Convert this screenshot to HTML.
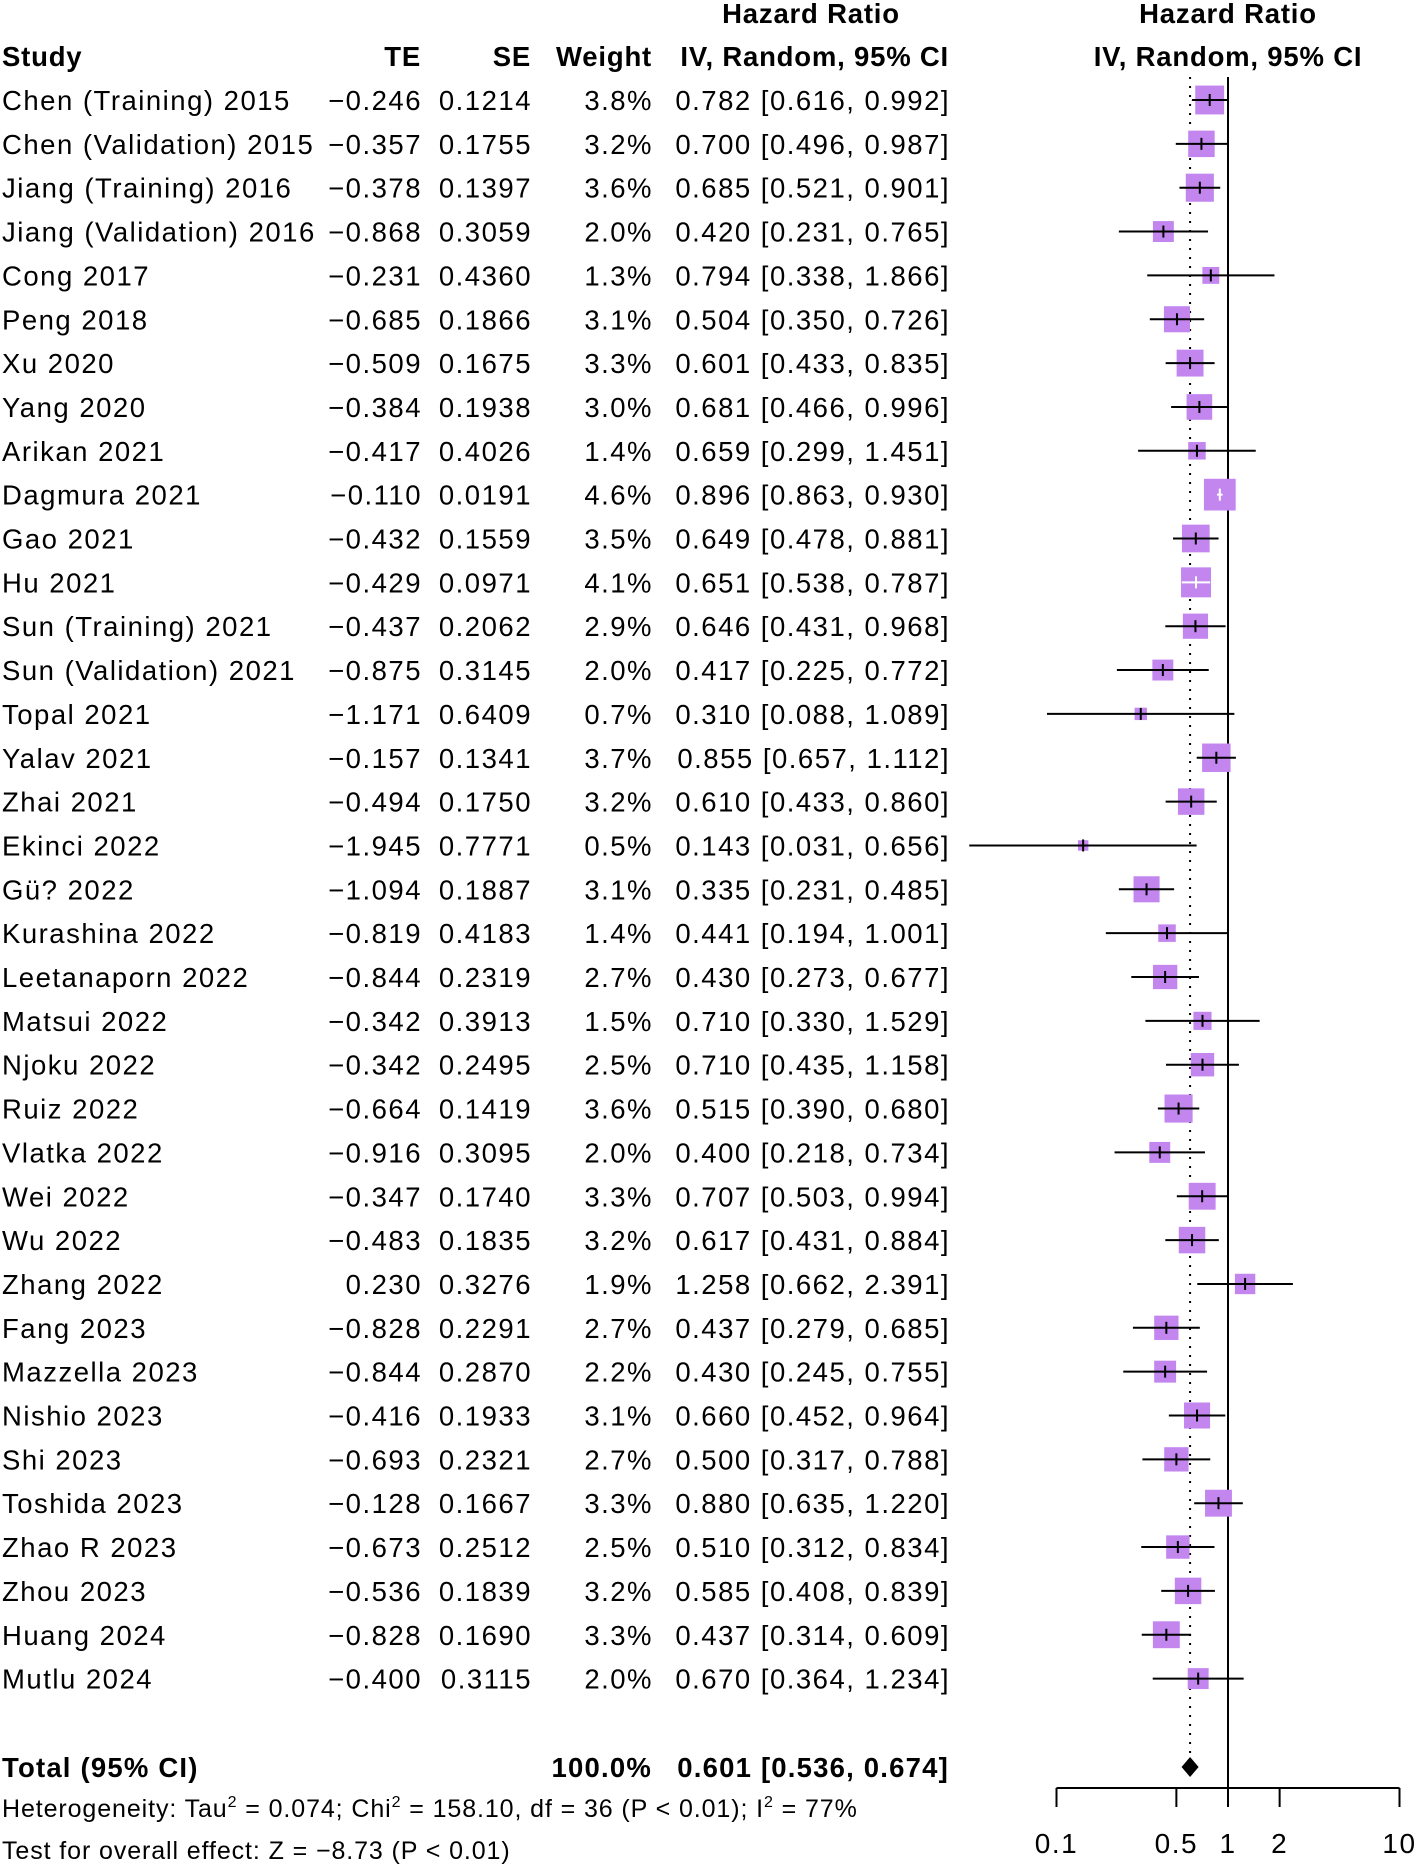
<!DOCTYPE html>
<html><head><meta charset="utf-8"><style>
html,body{margin:0;padding:0;background:#fff;}
svg{display:block;font-family:"Liberation Sans",Arial,sans-serif;}
</style></head><body>
<svg id="plot" width="1417" height="1868" viewBox="0 0 1417 1868">
<g id="hdr" font-size="27.5" font-weight="bold" fill="#000" letter-spacing="0.8">
<text x="811" y="23" text-anchor="middle">Hazard Ratio</text>
<text x="1228" y="23" text-anchor="middle">Hazard Ratio</text>
<text x="2" y="66">Study</text>
<text x="421" y="66" text-anchor="end">TE</text>
<text x="531" y="66" text-anchor="end">SE</text>
<text x="652" y="66" text-anchor="end">Weight</text>
<text x="949" y="66" text-anchor="end">IV, Random, 95% CI</text>
<text x="1228" y="66" text-anchor="middle">IV, Random, 95% CI</text>
</g>
<g id="rows" font-size="27.5" fill="#000" letter-spacing="1.5"></g>
<g id="marks"></g>
<g id="axis"></g>
<g font-size="27.5" fill="#000" letter-spacing="1.2">
<text x="2" y="1777" font-weight="bold">Total (95% CI)</text>
<text x="652" y="1777" text-anchor="end" font-weight="bold">100.0%</text>
<text x="949" y="1777" text-anchor="end" font-weight="bold">0.601 [0.536, 0.674]</text>
</g>
<g font-size="25" fill="#000" letter-spacing="0.9">
<text x="2" y="1817">Heterogeneity: Tau<tspan font-size="16" dy="-10">2</tspan><tspan dy="10"> = 0.074; Chi</tspan><tspan font-size="16" dy="-10">2</tspan><tspan dy="10"> = 158.10, df = 36 (P &lt; 0.01); I</tspan><tspan font-size="16" dy="-10">2</tspan><tspan dy="10"> = 77%</tspan></text>
<text x="2" y="1859">Test for overall effect: Z = −8.73 (P &lt; 0.01)</text>
</g>
</svg>
<script>
const studies=["Chen (Training) 2015","Chen (Validation) 2015","Jiang (Training) 2016","Jiang (Validation) 2016","Cong 2017","Peng 2018","Xu 2020","Yang 2020","Arikan 2021","Dagmura 2021","Gao 2021","Hu 2021","Sun (Training)  2021","Sun (Validation) 2021","Topal 2021","Yalav 2021","Zhai 2021","Ekinci 2022","Gü? 2022","Kurashina 2022","Leetanaporn 2022","Matsui 2022","Njoku 2022","Ruiz 2022","Vlatka 2022","Wei 2022","Wu 2022","Zhang 2022","Fang 2023","Mazzella 2023","Nishio 2023","Shi 2023","Toshida 2023","Zhao R 2023","Zhou 2023","Huang 2024","Mutlu 2024"];
const te=["−0.246","−0.357","−0.378","−0.868","−0.231","−0.685","−0.509","−0.384","−0.417","−0.110","−0.432","−0.429","−0.437","−0.875","−1.171","−0.157","−0.494","−1.945","−1.094","−0.819","−0.844","−0.342","−0.342","−0.664","−0.916","−0.347","−0.483","0.230","−0.828","−0.844","−0.416","−0.693","−0.128","−0.673","−0.536","−0.828","−0.400"];
const se=["0.1214","0.1755","0.1397","0.3059","0.4360","0.1866","0.1675","0.1938","0.4026","0.0191","0.1559","0.0971","0.2062","0.3145","0.6409","0.1341","0.1750","0.7771","0.1887","0.4183","0.2319","0.3913","0.2495","0.1419","0.3095","0.1740","0.1835","0.3276","0.2291","0.2870","0.1933","0.2321","0.1667","0.2512","0.1839","0.1690","0.3115"];
const weights=[3.8,3.2,3.6,2.0,1.3,3.1,3.3,3.0,1.4,4.6,3.5,4.1,2.9,2.0,0.7,3.7,3.2,0.5,3.1,1.4,2.7,1.5,2.5,3.6,2.0,3.3,3.2,1.9,2.7,2.2,3.1,2.7,3.3,2.5,3.2,3.3,2.0];
const hr=[0.782,0.700,0.685,0.420,0.794,0.504,0.601,0.681,0.659,0.896,0.649,0.651,0.646,0.417,0.310,0.855,0.610,0.143,0.335,0.441,0.430,0.710,0.710,0.515,0.400,0.707,0.617,1.258,0.437,0.430,0.660,0.500,0.880,0.510,0.585,0.437,0.670];
const lower=[0.616,0.496,0.521,0.231,0.338,0.350,0.433,0.466,0.299,0.863,0.478,0.538,0.431,0.225,0.088,0.657,0.433,0.031,0.231,0.194,0.273,0.330,0.435,0.390,0.218,0.503,0.431,0.662,0.279,0.245,0.452,0.317,0.635,0.312,0.408,0.314,0.364];
const upper=[0.992,0.987,0.901,0.765,1.866,0.726,0.835,0.996,1.451,0.930,0.881,0.787,0.968,0.772,1.089,1.112,0.860,0.656,0.485,1.001,0.677,1.529,1.158,0.680,0.734,0.994,0.884,2.391,0.685,0.755,0.964,0.788,1.220,0.834,0.839,0.609,1.234];
const pooled=[0.601,0.536,0.674];
const ticks=[0.1,0.5,1,2,10];
const tickLabels=["0.1","0.5","1","2","10"];

const NS="http://www.w3.org/2000/svg";
const X=v=>1228+171.5*Math.log10(v);
const Y=i=>100+i*43.85;
function mk(tag,attrs,parent){const e=document.createElementNS(NS,tag);for(const k in attrs)e.setAttribute(k,attrs[k]);parent.appendChild(e);return e;}
const rows=document.getElementById('rows'),marks=document.getElementById('marks'),axis=document.getElementById('axis');
const f=v=>v.toFixed(3);
let l1=mk('line',{x1:X(1),x2:X(1),y1:77,y2:1788,stroke:'#000','stroke-width':2},marks);


let l2=mk('line',{x1:X(pooled[0]),x2:X(pooled[0]),y1:77,y2:1757,stroke:'#000','stroke-width':2,'stroke-dasharray':'2,7'},marks);


studies.forEach((s,i)=>{
  const y=Y(i),by=y+10;
  const cols=[[s,2,'start'],[te[i],422,'end'],[se[i],532,'end'],[weights[i].toFixed(1)+'%',653,'end'],[f(hr[i])+' ['+f(lower[i])+', '+f(upper[i])+']',950,'end']];
  const names=['study-name','te-value','se-value','weight-value','ci-value'];
  cols.forEach((c,j)=>{const t=mk('text',{x:c[1],y:by,'text-anchor':c[2]},rows);t.textContent=c[0];
    
    });
  const side=14.8*Math.sqrt(weights[i]);
  const cx=X(hr[i]);
  const b=mk('rect',{x:cx-side/2,y:y-side/2,width:side,height:side,fill:'#c386ef'},marks);
  
  
  const x1=X(lower[i]),x2=X(upper[i]);
  const inside=(x1>=cx-side/2&&x2<=cx+side/2);
  const col=inside?'#fff':'#000';
  const ln=mk('line',{x1:x1,x2:x2,y1:y,y2:y,stroke:col,'stroke-width':2},marks);
  
  
  const tk=mk('line',{x1:cx,x2:cx,y1:y-6,y2:y+6,stroke:col,'stroke-width':2},marks);
  
  
});
const dy=1767,dl=X(pooled[1]),dm=X(pooled[0]),dr=X(pooled[2]);
const d=mk('polygon',{points:`${dl},${dy} ${dm},${dy-10} ${dr},${dy} ${dm},${dy+10}`,fill:'#000'},marks);


const ax=mk('line',{x1:X(ticks[0]),x2:X(ticks[ticks.length-1]),y1:1788,y2:1788,stroke:'#000','stroke-width':2},axis);


ticks.forEach((t,i)=>{
  const tl=mk('line',{x1:X(t),x2:X(t),y1:1788,y2:1807,stroke:'#000','stroke-width':2},axis);
  
  
  const tx=mk('text',{x:X(t),y:1853,'text-anchor':'middle','font-size':28,'letter-spacing':1.5},axis);
  tx.textContent=tickLabels[i];
  
  
});
</script>
</body></html>
